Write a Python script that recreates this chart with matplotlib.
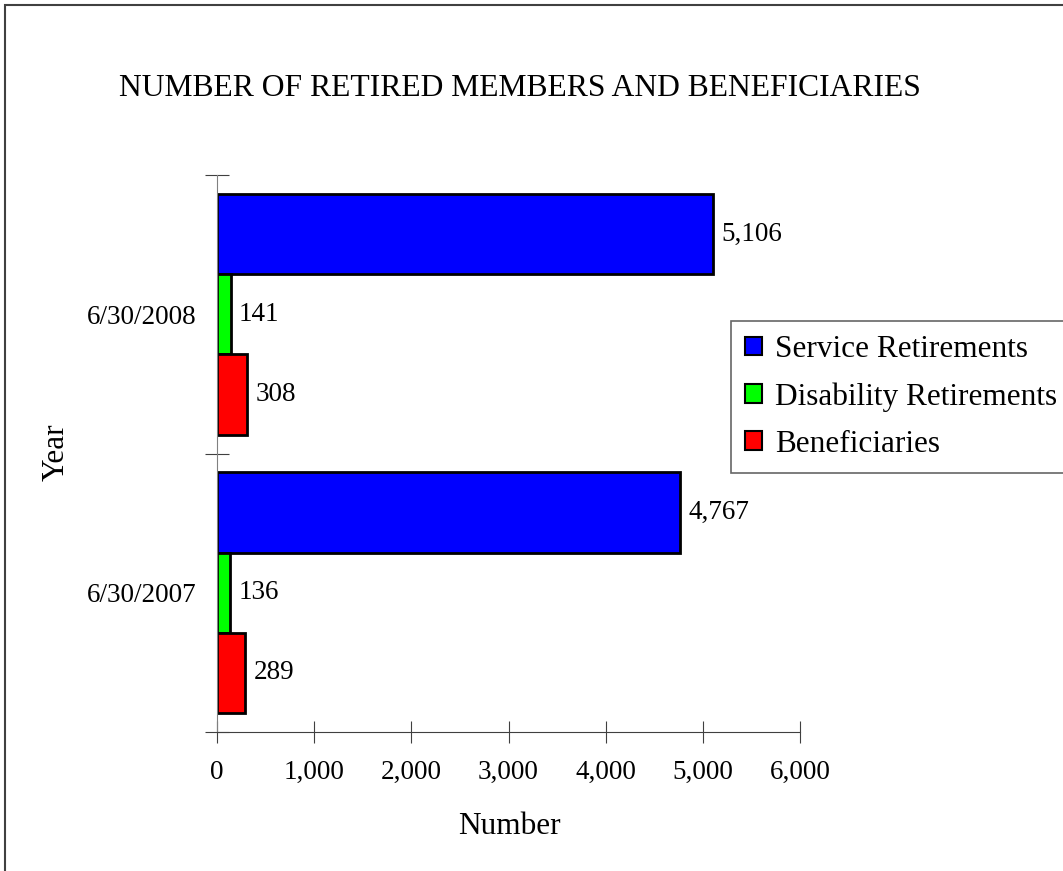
import matplotlib.pyplot as plt
from matplotlib.patches import Rectangle
import numpy as np

plt.rcParams['font.family'] = ['Liberation Serif', 'DejaVu Serif']

years = ["6/30/2007", "6/30/2008"]
series = ["Service Retirements", "Disability Retirements", "Beneficiaries"]
service = [4767, 5106]
disability = [136, 141]
beneficiaries = [289, 308]
colors = ["#0000ff", "#00ff00", "#ff0000"]

W, H = 1063, 871
fig = plt.figure(figsize=(W / 100, H / 100), dpi=100)
ax = fig.add_axes([217 / W, 1 - 732 / H, (800 - 217) / W, (732 - 175) / H])

# frame around the whole chart area
fig.patches.append(Rectangle((5 / W, -0.01), 1.0, 1 - 5 / H + 0.01,
                             transform=fig.transFigure, fill=False,
                             edgecolor='#404040', linewidth=1.5))

small = 19.5
big = 22.5

h = 0.288
y = np.arange(len(years))
values = [service, disability, beneficiaries]
offsets = [h, 0, -h]
for vals, off, col, name in zip(values, offsets, colors, series):
    bars = ax.barh(y + off, vals, height=h, color=col, edgecolor='black',
                   linewidth=2, label=name)
    for b, v in zip(bars, vals):
        ax.annotate(f"{v:,}", (v, b.get_y() + h / 2), xytext=(6, 0),
                    textcoords='offset points', va='center', ha='left',
                    fontsize=small)

ax.set_xlim(0, 6000)
ax.set_ylim(-0.5, 1.5)
ax.set_xticks(np.arange(0, 6001, 1000))
ax.set_xticklabels([f"{v:,}" for v in range(0, 6001, 1000)], fontsize=small)
ax.set_yticks([-0.5, 0.5, 1.5], minor=False)
ax.set_yticklabels([])
ax.set_yticks([0, 1], minor=True)
ax.set_yticklabels(years, minor=True, fontsize=small)
ax.tick_params(axis='y', which='minor', length=0, pad=15)
ax.tick_params(axis='y', which='major', direction='inout', length=17, color='#404040')
ax.tick_params(axis='x', direction='inout', length=16, pad=12, color='#404040')
for s in ['top', 'right']:
    ax.spines[s].set_visible(False)
ax.spines['left'].set_color('#808080')
ax.spines['bottom'].set_color('#404040')

fig.text(509 / W, 1 - 826 / H, "Number", fontsize=big, ha='center', va='center')
fig.text(56 / W, 1 - 452 / H, "Year", fontsize=big, rotation=90,
         ha='center', va='center')

fig.text(119 / W, 1 - 88 / H, "NUMBER OF RETIRED MEMBERS AND BENEFICIARIES",
         fontsize=22.8, va='center', ha='left')

leg = ax.legend(loc='upper left', bbox_to_anchor=(731 / W, 1 - 321 / H),
                bbox_transform=fig.transFigure, fontsize=big, frameon=True,
                fancybox=False, edgecolor='#404040', handlelength=0.55,
                handleheight=0.55, handletextpad=0.4, labelspacing=0.58,
                borderpad=0.45, borderaxespad=0)
leg.get_frame().set_linewidth(1.2)
for p in leg.get_patches():
    p.set_linewidth(1.5)

fig.savefig("out.png", dpi=100)
